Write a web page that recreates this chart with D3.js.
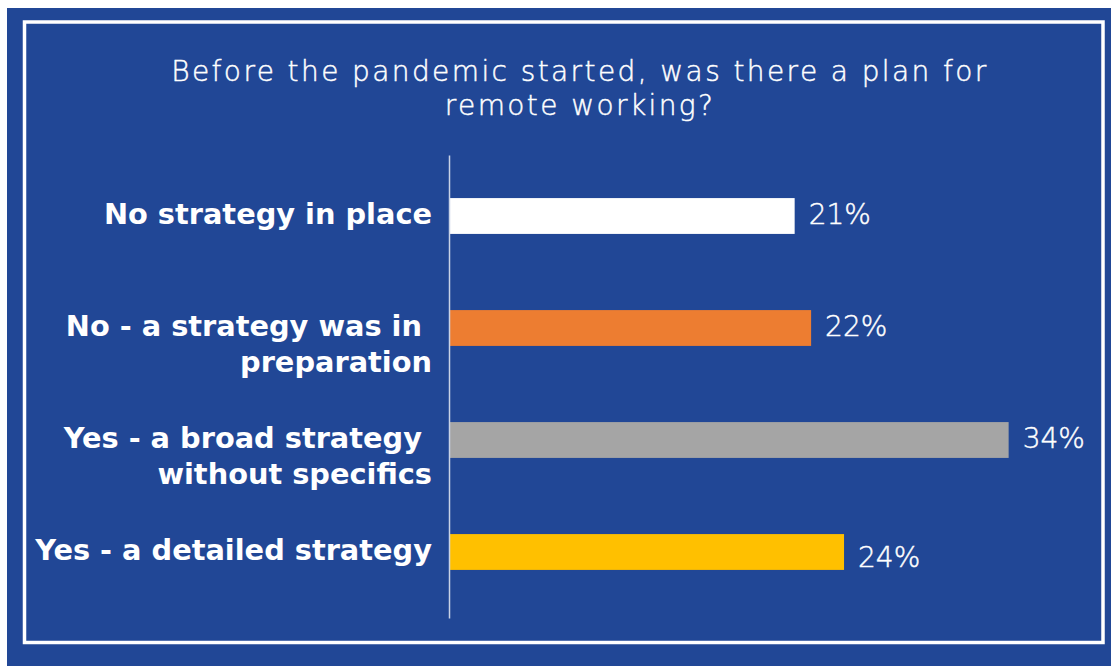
<!DOCTYPE html>
<html>
<head>
<meta charset="utf-8">
<script src="https://cdn.jsdelivr.net/npm/d3@7"></script>
<style>
  html, body { margin: 0; padding: 0; background: #ffffff; }
  svg { display: block; }
</style>
</head>
<body>
<svg id="chart" width="1111" height="666"></svg>
<script>
// ---- data ----
const titleLines = ["Before the pandemic started, was there a plan for", "remote working?"];
const categories = ["No strategy in place", "No - a strategy was in preparation", "Yes - a broad strategy without specifics", "Yes - a detailed strategy"];
const categoryLines = [
  ["No strategy in place"],
  ["No - a strategy was in ", "preparation"],
  ["Yes - a broad strategy ", "without specifics"],
  ["Yes - a detailed strategy"]
];
const values = [21, 22, 34, 24];
const valueLabels = ["21%", "22%", "34%", "24%"];
const barColors = ["#FFFFFF", "#ED7D31", "#A5A5A5", "#FFC000"];

// ---- drawing ----
const W = 1111, H = 666;
const svg = d3.select("#chart");
const bg = "#214796";
const lightFont = "'DejaVu Sans', 'Noto Sans', sans-serif";

svg.append("rect").attr("x", 7).attr("y", 8).attr("width", W - 7).attr("height", H - 8).attr("fill", bg);
svg.append("rect").attr("x", 24.5).attr("y", 22).attr("width", 1078.5).attr("height", 620.5)
  .attr("fill", "none").attr("stroke", "#ffffff").attr("stroke-width", 3.5);

// title
const title = svg.append("text").attr("text-anchor", "middle")
  .attr("font-family", lightFont).attr("font-weight", 300).attr("font-size", 28)
  .attr("letter-spacing", 2.4)
  .attr("fill", "#ffffff").attr("stroke", "#ffffff").attr("stroke-width", 0.45);
titleLines.forEach((t, i) => {
  title.append("tspan").attr("x", 580).attr("y", 81 + i * 34).text(t);
});

const x = d3.scaleLinear().domain([0, 34]).range([449, 449 + 34 * 16.46]);
const y = d3.scaleBand().domain(categories).range([160, 608]).paddingInner(0.68).paddingOuter(0.34);

// bars
svg.append("g").selectAll("rect").data(values).join("rect")
  .attr("x", x(0))
  .attr("y", (d, i) => y(categories[i]))
  .attr("width", d => x(d) - x(0))
  .attr("height", y.bandwidth())
  .attr("fill", (d, i) => barColors[i]);

// axis line
const axisG = svg.append("g").attr("transform", `translate(${x(0)},0)`)
  .call(d3.axisLeft(d3.scaleLinear().range([155, 618])).ticks(0).tickSize(0).tickFormat(""));
axisG.select(".domain").attr("stroke", "#c9d2e6").attr("stroke-width", 1.5);

// category labels
const labelG = svg.append("g");
categoryLines.forEach((lines, i) => {
  const cy = y(categories[i]) + y.bandwidth() / 2;
  const t = labelG.append("text").attr("text-anchor", "end")
    .attr("font-family", "'DejaVu Sans', sans-serif").attr("font-weight", "bold").attr("font-size", 28.8)
    .attr("fill", "#ffffff").style("white-space", "pre");
  lines.forEach((l, j) => {
    t.append("tspan").attr("x", 432).attr("y", cy + 8 + j * 36).text(l);
  });
});

// value labels
const nudge = {3: 7};
svg.append("g").selectAll("text").data(values).join("text")
  .attr("x", d => x(d) + 14)
  .attr("y", (d, i) => y(categories[i]) + y.bandwidth() / 2 + 8 + (nudge[i] || 0))
  .attr("font-family", lightFont).attr("font-weight", 300).attr("font-size", 28)
  .attr("fill", "#ffffff").attr("stroke", "#ffffff").attr("stroke-width", 0.45)
  .text((d, i) => valueLabels[i]);
</script>
</body>
</html>
